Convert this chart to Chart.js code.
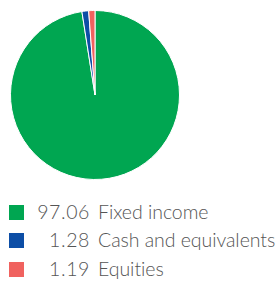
<!DOCTYPE html>
<html><head><meta charset="utf-8">
<script src="https://cdn.jsdelivr.net/npm/chart.js@4/dist/chart.umd.min.js"></script>
<style>
html,body{margin:0;padding:0;background:#fff;width:278px;height:281px;overflow:hidden;}
#wrap{position:absolute;left:0;top:0;width:190px;height:190px;}
#legend{position:absolute;left:0;top:0;font-family:"Lato",sans-serif;font-weight:300;font-size:19.5px;color:#555;}
.row{position:absolute;left:9px;height:16px;white-space:nowrap;}
.sw{position:absolute;left:0;top:0;width:15px;height:15px;}
.num{position:absolute;left:20px;width:61px;text-align:right;line-height:20px;top:-3px;letter-spacing:0.6px;}
.lab{position:absolute;left:89px;line-height:20px;top:-3px;letter-spacing:-0.05px;}
</style></head>
<body>
<div id="wrap"><canvas id="c" width="190" height="190"></canvas></div>
<div id="legend"></div>
<script>
const categories = ["Fixed income", "Cash and equivalents", "Equities"];
const values = [97.06, 1.28, 1.19];
const labelsText = ["97.06", "1.28", "1.19"];
const colors = ["#00a651", "#0d4ea6", "#f0625f"];

new Chart(document.getElementById('c'), {
  type: 'pie',
  data: { labels: categories, datasets: [{ data: values, backgroundColor: colors, borderColor: '#fff', borderWidth: 1 }] },
  options: {
    responsive: false, animation: false,
    layout: { padding: 10 },
    plugins: { legend: { display: false }, tooltip: { enabled: false } }
  }
});

const lg = document.getElementById('legend');
const tops = [205, 233, 262];
categories.forEach((c, i) => {
  const r = document.createElement('div');
  r.className = 'row';
  r.style.top = tops[i] + 'px';
  r.innerHTML = `<div class="sw" style="background:${colors[i]}"></div><div class="num">${labelsText[i]}</div><div class="lab">${c}</div>`;
  lg.appendChild(r);
});
</script>
</body></html>
